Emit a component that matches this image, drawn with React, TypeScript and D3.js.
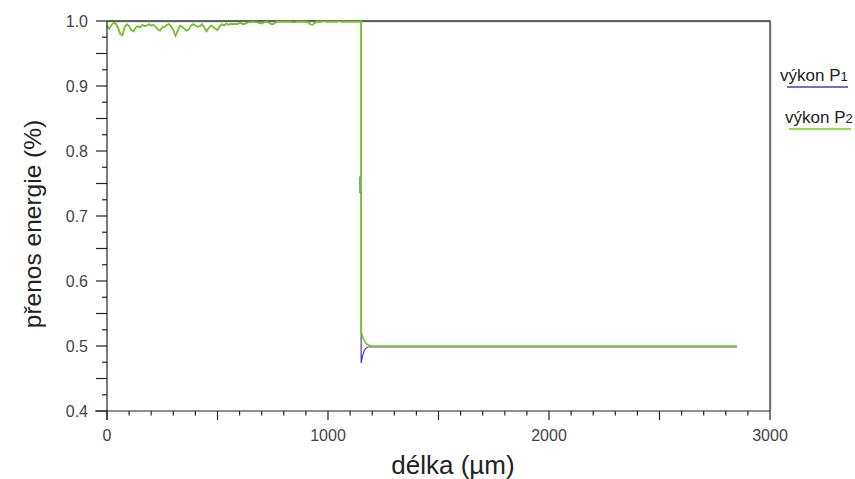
import * as d3 from "d3";

// axis ticks
const xTicks = [0, 1000, 2000, 3000];
const yTicks = [0.4, 0.5, 0.6, 0.7, 0.8, 0.9, 1.0];

// transmission before the step, sampled every 10 µm from 0 to 1140 (both outputs coincide here)
const headStep = 10;
const headValues = [
  0.993, 0.988, 0.994, 0.997, 0.996, 0.99, 0.98, 0.978, 0.991, 0.995,
  0.992, 0.986, 0.984, 0.99, 0.992, 0.99, 0.994, 0.992, 0.993, 0.995,
  0.993, 0.994, 0.991, 0.987, 0.985, 0.99, 0.991, 0.994, 0.995, 0.992,
  0.986, 0.977, 0.985, 0.993, 0.991, 0.988, 0.985, 0.987, 0.993, 0.995,
  0.993, 0.991, 0.992, 0.995, 0.99, 0.984, 0.989, 0.993, 0.991, 0.988,
  0.986, 0.992, 0.995, 0.993, 0.996, 0.994, 0.996, 0.995, 0.996, 0.995,
  0.997, 0.996, 0.995, 0.997, 0.998, 0.998, 0.999, 0.998, 0.998, 0.997,
  0.996, 0.998, 0.999, 0.998, 0.996, 0.995, 0.997, 0.999, 0.999, 0.999,
  0.999, 0.999, 0.999, 0.999, 0.998, 0.998, 0.999, 0.999, 0.999, 0.999,
  0.999, 0.998, 0.995, 0.994, 0.997, 0.999, 0.999, 0.999, 1.0, 0.999,
  0.999, 0.999, 0.999, 0.999, 0.999, 1.0, 0.999, 0.999, 0.999, 0.999,
  0.999, 0.999, 0.999, 0.999, 0.999,
];

// after the step
const p1TailX = [1150, 1150, 1145, 1145, 1150, 1150, 1153, 1157, 1163, 1170, 1180, 1200, 2850];
const p1Tail = [0.999, 0.76, 0.76, 0.736, 0.736, 0.474, 0.479, 0.486, 0.492, 0.496, 0.4985, 0.4985, 0.4985];
const p2TailX = [1150, 1150, 1155, 1160, 1167, 1175, 1185, 1200, 2850];
const p2Tail = [0.999, 0.5235, 0.516, 0.511, 0.507, 0.503, 0.501, 0.5, 0.5];

const colP1 = "#5533bb";
const colP2 = "#70d010";

const W = 855, H = 479;
const m = { top: 21, right: 85, bottom: 68, left: 107 };

export default function App() {
  const x = d3.scaleLinear().domain([0, 3000]).range([m.left, W - m.right]);
  const y = d3.scaleLinear().domain([0.4, 1.0]).range([H - m.bottom, m.top]);
  const x0 = x(0), x1 = x(3000), y0 = y(0.4), y1 = y(1.0);

  const head: [number, number][] = headValues.map((v, i) => [i * headStep, v]);
  const p1: [number, number][] = head.concat(p1TailX.map((t, i) => [t, p1Tail[i]]));
  const p2: [number, number][] = head.concat(p2TailX.map((t, i) => [t, p2Tail[i]]));

  const line = d3
    .line<[number, number]>()
    .x((d) => x(d[0]))
    .y((d) => y(d[1]));

  const yMinor = d3.range(0.4, 1.0001, 0.025);
  const xMinor = d3.range(0, 3001, 100);

  return (
    <svg width={W} height={H} style={{ position: "absolute", left: 0, top: 0 }} fontFamily="'Liberation Sans', Arial, sans-serif">
      <rect width={W} height={H} fill="#fff" />

      {/* frame (top / right) with light shadow */}
      <path d={`M${x0},${y1 + 1}H${x1 + 1}V${y0}`} fill="none" stroke="#ccc" strokeWidth={1} />
      <path d={`M${x0},${y1}H${x1}V${y0}`} fill="none" stroke="#333" strokeWidth={1.3} />

      {/* series */}
      <path d={line(p1) || ""} fill="none" stroke={colP1} strokeWidth={1.2} />
      <path d={line(p2) || ""} fill="none" stroke={colP2} strokeWidth={1.6} />

      {/* axes */}
      <line x1={x0} x2={x0} y1={y1} y2={y0 + 9} stroke="#222" strokeWidth={1.2} />
      <line x1={x0 - 12} x2={x1} y1={y0} y2={y0} stroke="#222" strokeWidth={1.2} />

      {yMinor.map((t, i) => {
        const len = i % 2 === 0 ? 11 : 5;
        return <line key={"yt" + i} x1={x0 - len} x2={x0} y1={y(t)} y2={y(t)} stroke="#222" strokeWidth={1.2} />;
      })}
      {xMinor.map((t, i) => {
        const len = i % 5 === 0 ? 9 : 4.5;
        return <line key={"xt" + i} x1={x(t)} x2={x(t)} y1={y0} y2={y0 + len} stroke="#222" strokeWidth={1.2} />;
      })}

      {yTicks.map((t) => (
        <text key={"yl" + t} x={x0 - 19} y={y(t)} dy="0.36em" textAnchor="end" fontSize={16} fill="#444">
          {t.toFixed(1)}
        </text>
      ))}
      {xTicks.map((t) => (
        <text key={"xl" + t} x={x(t)} y={y0 + 30} textAnchor="middle" fontSize={16} fill="#444">
          {t}
        </text>
      ))}

      <text x={x(1000) + 125} y={H - 5} textAnchor="middle" fontSize={26} fill="#222">
        délka (µm)
      </text>
      <text transform={`translate(41,${(y0 + y1) / 2 + 8}) rotate(-90)`} textAnchor="middle" fontSize={24.5} fill="#222">
        přenos energie (%)
      </text>

      {/* legend */}
      <text x={780} y={81} fontSize={17} fill="#222">
        výkon P<tspan fontSize={13}>1</tspan>
      </text>
      <line x1={787} x2={848} y1={87} y2={87} stroke={colP1} strokeWidth={1.5} />
      <text x={785} y={123} fontSize={17} fill="#222">
        výkon P<tspan fontSize={13}>2</tspan>
      </text>
      <line x1={789} x2={851} y1={129} y2={129} stroke={colP2} strokeWidth={1.5} />
    </svg>
  );
}
